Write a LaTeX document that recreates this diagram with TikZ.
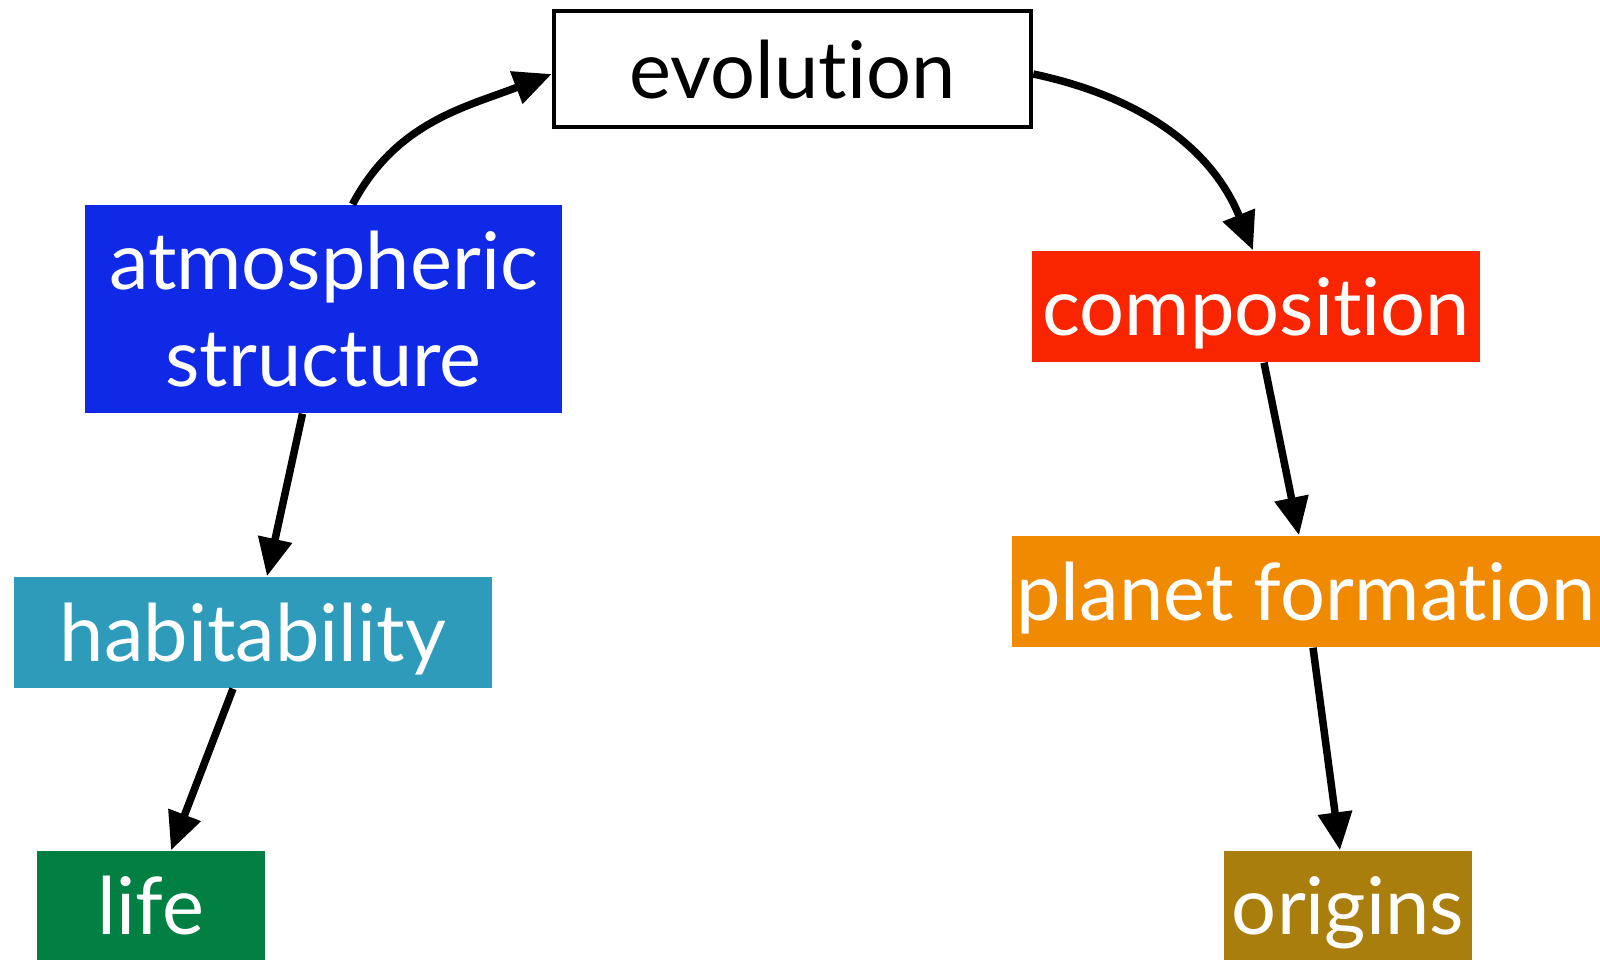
\documentclass[tikz,border=0pt]{standalone}
\usepackage{fontspec}
\setmainfont{Lato}[Ligatures=NoCommon]
\usepackage{xcolor}
\definecolor{atmblue}{HTML}{1029E6}
\definecolor{compred}{HTML}{F92500}
\definecolor{habteal}{HTML}{2E9BBA}
\definecolor{pforange}{HTML}{F08A00}
\definecolor{lifegreen}{HTML}{028043}
\definecolor{origold}{HTML}{A97E0D}
\usepackage{tikz}
\usetikzlibrary{arrows.meta}
\tikzset{
  >={Triangle[length=3.8mm,width=3.3mm]},
  topic/.style ={text=white,inner sep=0pt,align=center,
                 font=\fontsize{22.6}{27.5}\selectfont,minimum height=11.1mm},
  oneline/.style={text height=6.3mm,text depth=0.5mm},
  evobox/.style={draw=black,line width=0.45mm,fill=white,inner sep=0pt,
                 oneline,font=\fontsize{22.6}{27.5}\selectfont,
                 minimum width=4.77cm,minimum height=1.16cm},
  flow/.style  ={->,draw=black,line width=0.75mm},
}

\begin{document}
\begin{tikzpicture}[x=1cm,y=1cm]
\useasboundingbox (0,0) rectangle (16,9.6);
% top
\node[evobox] (evo) at (7.925,8.91) {evolution};
% left branch
\node[topic,fill=atmblue,minimum width=4.77cm,minimum height=2.08cm] (atm) at (3.235,6.51) {atmospheric\\structure};
\node[topic,oneline,fill=habteal,minimum width=4.78cm] (hab) at (2.53,3.275) {habitability};
\node[topic,oneline,fill=lifegreen,minimum width=2.28cm,minimum height=1.09cm] (life) at (1.51,0.545) {life};
% right branch
\node[topic,oneline,fill=compred,minimum width=4.48cm] (comp) at (12.56,6.535) {composition};
\node[topic,oneline,fill=pforange,minimum width=5.88cm] (pf) at (13.06,3.685) {planet formation};
\node[topic,oneline,fill=origold,minimum width=2.48cm,minimum height=1.09cm] (orig) at (13.48,0.545) {origins};
% links
\draw[flow] ([xshift=2.9mm]atm.north) to[out=62,in=201] ([yshift=-0.5mm]evo.west);
\draw[flow] ([yshift=-0.5mm]evo.east) to[out=-12,in=112] ([xshift=-0.3mm]comp.north);
\draw[flow] ([xshift=-2.1mm]atm.south) -- ([xshift=1.4mm]hab.north);
\draw[flow] ([xshift=-2mm]hab.south) -- ([xshift=2mm]life.north);
\draw[flow] ([xshift=0.8mm]comp.south) -- ([xshift=-0.7mm]pf.north);
\draw[flow] ([xshift=0.7mm]pf.south) -- ([xshift=-0.8mm]orig.north);
\end{tikzpicture}
\end{document}
